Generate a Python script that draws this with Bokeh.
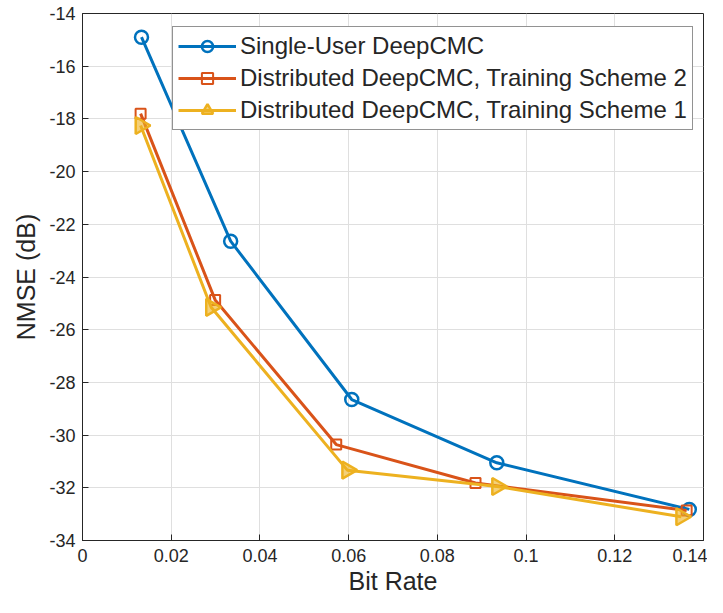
import math
from bokeh.plotting import figure
from bokeh.models import (FixedTicker, Legend, LegendItem, Range1d, ColumnDataSource)
from bokeh.embed import file_html
from bokeh.resources import INLINE

# ---- data ----
single_x = [0.0133, 0.0334, 0.0607, 0.0934, 0.1368]
single_y = [-14.9, -22.64, -28.65, -31.05, -32.82]

scheme2_x = [0.0131, 0.0299, 0.0572, 0.0886, 0.1362]
scheme2_y = [-17.8, -24.87, -30.36, -31.82, -32.86]

scheme1_x = [0.0131, 0.0290, 0.0597, 0.0935, 0.1350]
scheme1_y = [-18.25, -25.15, -31.33, -31.95, -33.1]

x_ticks = [0, 0.02, 0.04, 0.06, 0.08, 0.1, 0.12, 0.14]
x_tick_labels = ["0", "0.02", "0.04", "0.06", "0.08", "0.1", "0.12", "0.14"]
y_ticks = [-34, -32, -30, -28, -26, -24, -22, -20, -18, -16, -14]
y_tick_labels = ["-34", "-32", "-30", "-28", "-26", "-24", "-22", "-20", "-18", "-16", "-14"]

labels = ["Single-User DeepCMC",
          "Distributed DeepCMC, Training Scheme 2",
          "Distributed DeepCMC, Training Scheme 1"]
colors = ["#0072BD", "#D95319", "#EDB120"]

FONT = "Liberation Sans"
AX = "#262626"

p = figure(width=707, height=597, output_backend="svg", toolbar_location=None,
           x_range=Range1d(0, 0.14), y_range=Range1d(-34, -14),
           min_border_left=82, min_border_top=13, min_border_right=4, min_border_bottom=56)
p.background_fill_color = "white"
p.border_fill_color = "white"
p.outline_line_color = AX
p.outline_line_width = 1

p.xaxis.ticker = FixedTicker(ticks=x_ticks)
p.xaxis.major_label_overrides = {v: l for v, l in zip(x_ticks, x_tick_labels)}
p.yaxis.ticker = FixedTicker(ticks=y_ticks)
p.yaxis.major_label_overrides = {v: l for v, l in zip(y_ticks, y_tick_labels)}

p.xaxis.axis_label = "Bit Rate"
p.yaxis.axis_label = "NMSE (dB)"
for ax in p.xaxis + p.yaxis:
    ax.axis_line_color = AX
    ax.major_tick_line_color = AX
    ax.major_tick_in = 6
    ax.major_tick_out = 0
    ax.minor_tick_line_color = None
    ax.major_label_text_font = FONT
    ax.major_label_text_font_size = "18px"
    ax.major_label_text_color = AX
    ax.axis_label_text_font = FONT
    ax.axis_label_text_font_style = "normal"
    ax.axis_label_text_font_size = "25px"
    ax.axis_label_text_color = AX
p.xaxis.major_label_standoff = 8
p.yaxis.major_label_standoff = 7
p.xaxis.axis_label_standoff = 2
p.yaxis.axis_label_standoff = 6

p.xgrid.ticker = FixedTicker(ticks=x_ticks)
p.ygrid.ticker = FixedTicker(ticks=y_ticks)
p.grid.grid_line_color = "#DFDFDF"
p.grid.grid_line_width = 1

series = [(single_x, single_y), (scheme2_x, scheme2_y), (scheme1_x, scheme1_y)]
items = []
for i, ((xs, ys), lab, c) in enumerate(zip(series, labels, colors)):
    src = ColumnDataSource(dict(x=xs, y=ys, ang=[-math.pi / 2] * len(xs)))
    ln = p.line("x", "y", source=src, line_color=c, line_width=3)
    if i == 0:
        mk = p.scatter("x", "y", source=src, marker="circle", size=13, line_color=c,
                       line_width=2.5, fill_color=None)
    elif i == 1:
        mk = p.scatter("x", "y", source=src, marker="square", size=10, line_color=c,
                       line_width=2, fill_color=None)
    else:
        mk = p.scatter("x", "y", source=src, marker="triangle", size=17, angle="ang",
                       line_color=c, line_width=2.5, fill_color=c, fill_alpha=0.6)
    items.append(LegendItem(label=lab, renderers=[ln, mk], index=0))

legend = Legend(items=items, location=(90, 410))
legend.label_text_font = FONT
legend.label_text_font_size = "24px"
legend.label_text_color = AX
legend.glyph_width = 58
legend.glyph_height = 28
legend.label_height = 28
legend.label_standoff = 4
legend.spacing = 4
legend.padding = 5
legend.border_line_color = AX
legend.border_line_width = 1
legend.background_fill_color = "white"
legend.background_fill_alpha = 1
p.add_layout(legend, "center")

open("out.html", "w").write(file_html(p, INLINE))
